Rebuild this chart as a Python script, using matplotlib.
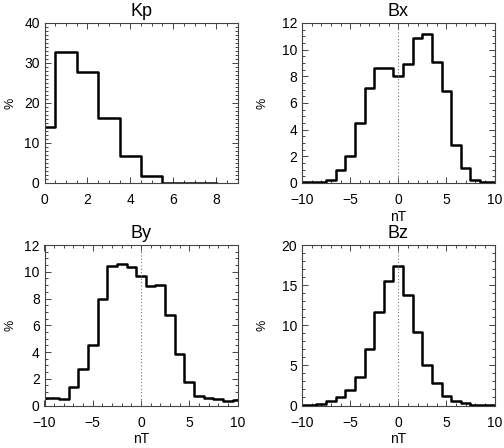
import matplotlib
matplotlib.use("Agg")
import matplotlib.pyplot as plt
from matplotlib.ticker import MultipleLocator

plt.rcParams['font.family'] = ['Liberation Sans', 'DejaVu Sans']

# ---- data (percent per bin) ----
kp_bins = [0, 1, 2, 3, 4, 5, 6, 7, 8]
kp_pct = [14.0, 32.8, 27.8, 16.3, 6.7, 1.7, 0.12, 0.06, 0.0]

b_bins = [-10, -9, -8, -7, -6, -5, -4, -3, -2, -1, 0, 1, 2, 3, 4, 5, 6, 7, 8, 9, 10]
bx_pct = [0.05, 0.05, 0.1, 0.25, 0.95, 2.0, 4.5, 7.1, 8.65, 8.65, 8.0,
          8.95, 10.9, 11.2, 9.1, 6.9, 2.85, 1.1, 0.25, 0.1, 0.05]
by_pct = [0.55, 0.55, 0.5, 1.35, 2.7, 4.55, 8.0, 10.45, 10.6, 10.35, 9.7,
          8.9, 9.0, 6.8, 3.85, 1.75, 0.7, 0.55, 0.45, 0.3, 0.4]
bz_pct = [0.08, 0.08, 0.2, 0.6, 1.0, 1.9, 3.6, 7.1, 11.7, 15.5, 17.4,
          13.75, 9.2, 5.0, 2.8, 1.2, 0.6, 0.3, 0.1, 0.05, 0.03]

panels = [
    # title, x, y, xlim, ylim, xmajor, xminor, ymajor, yminor, xlabel, zero line, rect(px: l, t, r, b)
    ("Kp", kp_bins, kp_pct, (0, 9), (0, 40), 2, 0.5, 10, 1, None, False, (44.5, 23, 237.5, 183)),
    ("Bx", b_bins, bx_pct, (-10, 10), (0, 12), 5, 1, 2, 0.5, "nT", True, (302, 23, 494.5, 183)),
    ("By", b_bins, by_pct, (-10, 10), (0, 12), 5, 1, 2, 0.5, "nT", True, (44.5, 245, 237.5, 405.5)),
    ("Bz", b_bins, bz_pct, (-10, 10), (0, 20), 5, 1, 5, 1, "nT", True, (302, 245, 494.5, 405.5)),
]

W, H = 504, 448
fig = plt.figure(figsize=(W / 100, H / 100), dpi=100)
spine_col = "#444444"

for (title, x, y, xlim, ylim, xmaj, xmin, ymaj, ymin, xlab, zline, rect) in panels:
    l, t, r, b = rect
    ax = fig.add_axes([l / W, 1 - b / H, (r - l) / W, (b - t) / H])
    ax.step(x, y, where='mid', color='black', lw=1.8)
    if zline:
        ax.axvline(0, color='#777777', lw=0.8, ls=(0, (1, 2)))
    ax.set_xlim(*xlim)
    ax.set_ylim(*ylim)
    ax.xaxis.set_major_locator(MultipleLocator(xmaj))
    ax.xaxis.set_minor_locator(MultipleLocator(xmin))
    ax.yaxis.set_major_locator(MultipleLocator(ymaj))
    ax.yaxis.set_minor_locator(MultipleLocator(ymin))
    ax.tick_params(which='both', direction='in', top=True, right=True,
                   color=spine_col, width=0.7)
    ax.tick_params(which='major', length=4.0)
    ax.tick_params(which='minor', length=2.0)
    ax.tick_params(axis='x', labelsize=10, pad=7.5)
    ax.tick_params(axis='y', labelsize=10, pad=3.5)
    for s in ax.spines.values():
        s.set_color(spine_col)
        s.set_linewidth(0.8)
    ax.set_title(title, fontsize=13, pad=5)
    ax.set_ylabel('%', fontsize=9, va='center')
    ax.yaxis.set_label_coords(-0.175 if l < 100 else -0.205, 0.5)
    if xlab:
        ax.set_xlabel(xlab, fontsize=10, va='center')
        ax.xaxis.set_label_coords(0.5, -0.21)

fig.savefig("out.png", dpi=100)
